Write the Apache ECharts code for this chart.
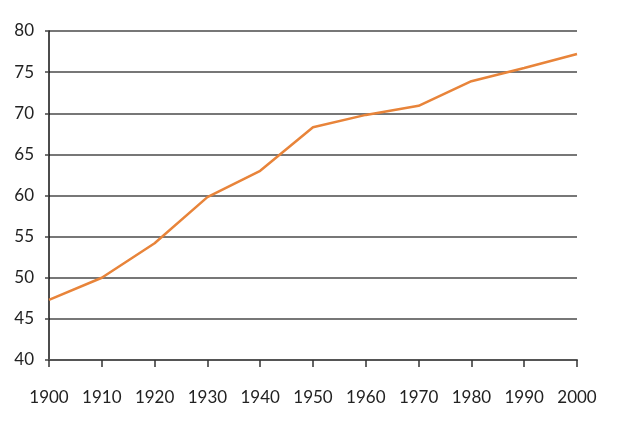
<!DOCTYPE html>
<html>
<head>
<meta charset="utf-8">
<script src="https://cdn.jsdelivr.net/npm/echarts@6/dist/echarts.min.js"></script>
<style>
  html, body { margin: 0; padding: 0; background: #fff; }
  #chart { width: 640px; height: 426px; }
</style>
</head>
<body>
<div id="chart"></div>
<script>
// years and values
const years = [1900, 1910, 1920, 1930, 1940, 1950, 1960, 1970, 1980, 1990, 2000]
const values = [47.3, 50.0, 54.2, 59.8, 63.0, 68.3, 69.8, 70.9, 73.9, 75.5, 77.2]

const yMin = 40
const yMax = 80
const yStep = 5

const myChart = echarts.init(document.getElementById('chart'))
const points = years.map((y, i) => [y, values[i]])

const options = {
    animation: false,
    grid: {
        left: 49,
        right: 63,
        top: 31,
        bottom: 66
    },
    xAxis: {
        type: 'value',
        min: 1900,
        max: 2000,
        interval: 10,
        axisLine: { show: true, lineStyle: { color: '#555', width: 2 } },
        axisTick: { show: true, inside: false, length: 7, lineStyle: { color: '#333', width: 1.5 } },
        axisLabel: {
            color: '#222',
            fontFamily: 'Lato',
            fontSize: 17,
            margin: 29,
            formatter: v => String(v)
        },
        splitLine: { show: false }
    },
    yAxis: {
        type: 'value',
        min: yMin,
        max: yMax,
        interval: yStep,
        axisLine: { show: true, lineStyle: { color: '#111', width: 1.5 } },
        axisTick: { show: true, length: 4, lineStyle: { color: '#444', width: 1.5 } },
        axisLabel: {
            color: '#222',
            fontFamily: 'Lato',
            fontSize: 17,
            margin: 15
        },
        splitLine: { show: true, lineStyle: { color: '#4a4a4a', width: 1.5 } }
    },
    series: [
        {
            type: 'line',
            data: points,
            symbol: 'none',
            lineStyle: { color: '#e8843a', width: 2.5 }
        }
    ]
}
myChart.setOption(options)
</script>
</body>
</html>
